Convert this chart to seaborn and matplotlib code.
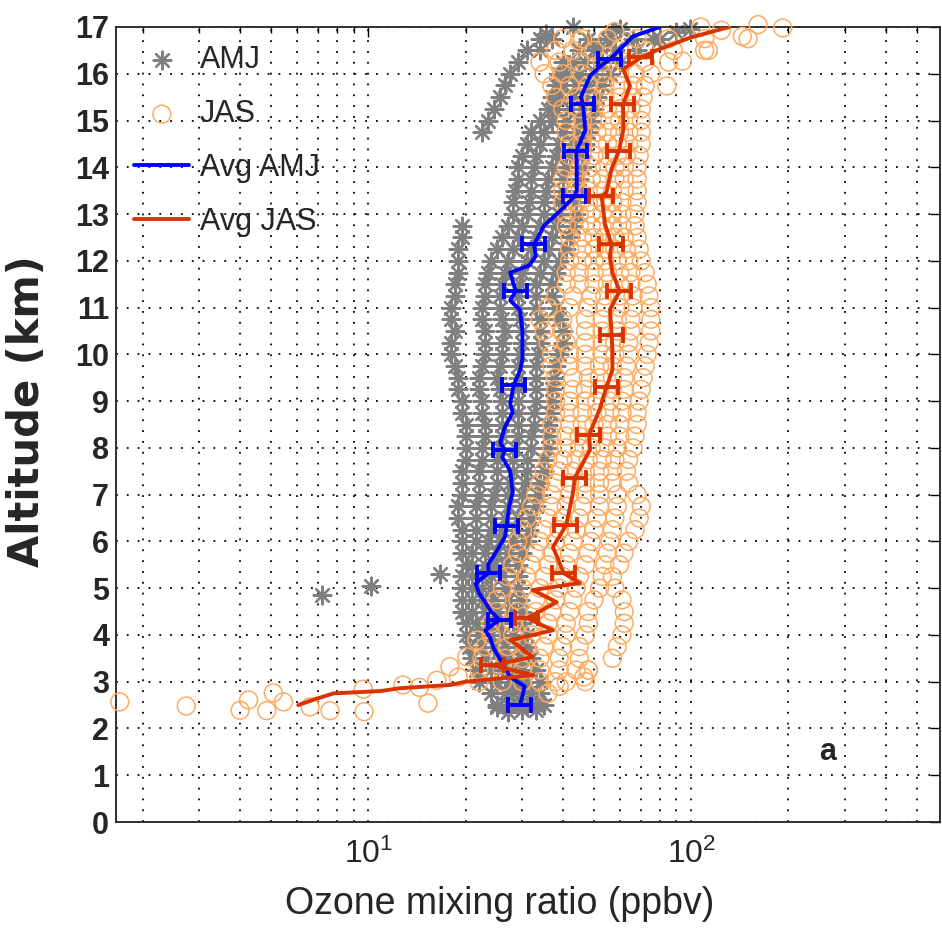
import numpy as np
import pandas as pd
import matplotlib
matplotlib.use("Agg")
import matplotlib.pyplot as plt
import seaborn as sns
from matplotlib.ticker import LogLocator, NullFormatter, FixedLocator

nan = np.nan

# ---------------- data ----------------
levels = [2.5, 2.75, 3.0, 3.25, 3.5, 3.75, 4.0, 4.25, 4.5, 4.75,
          5.0, 5.25, 5.5, 5.75, 6.0, 6.25, 6.5, 6.75, 7.0, 7.25,
          7.5, 7.75, 8.0, 8.25, 8.5, 8.75, 9.0, 9.25, 9.5, 9.75,
          10.0, 10.25, 10.5, 10.75, 11.0, 11.25, 11.5, 11.75, 12.0, 12.25,
          12.5, 12.75, 13.0, 13.25, 13.5, 13.75, 14.0, 14.25, 14.5, 14.75,
          15.0, 15.25, 15.5, 15.75, 16.0, 16.25, 16.5, 16.75]

# AMJ soundings (ppbv at each level)
amj_p1 = [25, 24, 22, 21.5, 21, 20.5, 20, 20, 19.5, 19.5, 19.5, 19.5,
          20, 19.5, 19.5, 19.5, 19, 19, 19.5, 19.5, 19.5, 20, 20, 20,
          20, 19.5, 19.5, 19, 19, 18.5, 18, 18, 18.5, 18, 18, 18.5,
          18.5, 19, 19, 19, 19.5, 19.5, nan, nan, nan, nan, nan, nan,
          nan, 22.5, 23.5, 24.5, 25.5, 26.5, 27.5, 29, 31, 34]
amj_p2 = [27, 26.5, 25, 24, 23, 22.5, 22, 21.5, 21, 21, 21, 21,
          21, 21, 21.5, 21.5, 21.5, 21.5, 22, 22, 22, 22.5, 22.5, 23,
          23, 22.5, 22.5, 22, 22, 22.5, 23, 23, 23, 22.5, 22.5, 23,
          23, 23.5, 24, 25, 26, 27, 28, 28, 28.5, 29, 29, 30,
          31, 32, 34, 36, 37, 38, 39, 40, 34, 37]
amj_p3 = [29, 28, 27.5, 26, 25.5, 24.5, 24, 23.5, 23, 22.5, 22.5, 22.5,
          23, 23, 23.5, 24, 24, 24, 24.5, 25, 25, 25, 25.5, 26,
          26, 26, 26, 25.5, 25, 25.5, 26, 26, 26.5, 26, 25.5, 25.5,
          26, 26.5, 27, 28, 29, 30, 31, 31.5, 32, 32, 32.5, 33,
          34, 35, 37, 38, 39, 40, 41, 43, 45, 48]
amj_p4 = [31, 30, 29, 28, 27, 26.5, 26, 25.5, 25, 24.5, 24, 24,
          24.5, 25, 25.5, 26, 26.5, 27, 27, 27.5, 28, 28, 28.5, 29,
          29, 29, 29, 29, 29, 29, 29.5, 30, 30, 29.5, 29, 29,
          29.5, 30, 31, 32, 33, 34, 35, 35, 35.5, 36, 37, 38,
          39, 40, 41, 42, 43, 44, 45, 47, 50, 55]
amj_p5 = [33, 32, 31, 30, 29.5, 29, 28, 28, 27.5, 27, 26.5, 26,
          26.5, 27, 28, 28.5, 29, 30, 30, 30.5, 31, 31, 32, 32,
          32.5, 32.5, 33, 33, 33, 33, 33.5, 34, 34, 34, 33, 33,
          33, 34, 35, 36, 37, 38, 39, 39, 40, 40, 41, 42,
          43, 44, 45, 46, 47, 48, 50, 53, 58, 66]
amj_p6 = [35, 34, 34, 33, 32, 31, 31, 30, 30, 29.5, 29, 29,
          29, 30, 31, 31.5, 32, 33, 33.5, 34, 35, 35, 36, 36,
          36, 36.5, 37, 37, 37.5, 38, 39, 40, 40, 39, 38, 37,
          37, 38, 39, 41, 42, 43, 44, 44, 45, 45, 46, 46,
          47, 48, 49, 50, 51, 53, 56, 60, 68, 80]
amj_extra_alt = [2.35, 2.4, 2.4, 2.45, 4.85, 5.05, 5.3, 16.6, 16.85, 16.9,
                 16.95, 17.0, 16.75, 16.9, 16.95, 15.6, 16.0]
amj_extra_val = [27, 30, 33, 25, 7.2, 10.2, 16.7, 52, 35.5, 57,
                 60, 43, 76, 90, 99, 39, 45]

# JAS soundings (ppbv at each level)
jas_p1 = [nan, nan, 22, 22, 22.5, 23, 24, 24, 25, 25,
          26, 27, 28, 29, 29, 30, 31, 32, 33, 34,
          35, 36, 37, 37, 37, 38, 38, 38, 38, 37,
          37, 36, 35, 34, 36, 38, 41, 41, 42, 42,
          42, 41, 41, 40, 40, 40, 41, 42, 42, 41,
          41, 40, 38, 37, 35, 34, 38, 40]
jas_p2 = [nan, nan, 26, 26, 26.5, 27, 28, 28, 29, 29,
          30, 31, 32, 33, 34, 35, 36, 37, 37, 38,
          39, 40, 41, 41, 42, 42, 42, 43, 43, 42,
          42, 41, 40, 40, 42, 43, 45, 45, 46, 46,
          46, 45, 45, 44, 44, 44, 45, 46, 46, 46,
          46, 45, 44, 42, 40, 39, 43, 46]
jas_p3 = [nan, nan, 30, 30, 30, 31, 32, 32, 33, 33,
          34, 35, 36, 37, 38, 39, 40, 41, 42, 42,
          43, 44, 45, 45, 46, 46, 47, 47, 48, 47,
          47, 47, 47, 47, 48, 49, 50, 50, 50, 50,
          50, 49, 49, 48, 48, 49, 49, 50, 51, 51,
          51, 50, 49, 48, 46, 45, 50, 55]
jas_p4 = [nan, nan, 34, 34, 34, 35, 36, 36, 37, 38,
          39, 40, 41, 42, 43, 44, 45, 46, 47, 47,
          47, 48, 49, 50, 50, 51, 51, 52, 52, 52,
          53, 53, 53, 53, 54, 54, 55, 55, 54, 54,
          54, 53, 53, 53, 53, 53, 54, 55, 55, 55,
          56, 55, 54, 54, 53, 53, 60, 68]
jas_p5 = [nan, nan, 38, 39, 39, 40, 41, 41, 42, 43,
          44, 45, 47, 48, 49, 50, 51, 52, 52, 52,
          52, 53, 54, 55, 55, 56, 56, 57, 57, 57,
          58, 58, 59, 59, 60, 60, 60, 60, 59, 58,
          58, 57, 57, 57, 57, 58, 58, 59, 59, 60,
          60, 60, 60, 60, 60, 62, 72, 85]
jas_p6 = [nan, nan, 41, 44, 45, 45, 47, 48, 48, 50,
          52, 53, 54, 55, 56, 57, 58, 59, 59, 57,
          57, 58, 59, 60, 60, 61, 61, 62, 62, 63,
          64, 64, 65, 65, 66, 66, 65, 65, 64, 63,
          62, 61, 61, 61, 62, 62, 62, 63, 64, 64,
          64, 65, 65, 66, 67, 72, 88, 110]
jas_p7 = [nan, nan, 47, 48, 57, 59, 61, 62, 62, 61,
          58, 57, 60, 62, 64, 67, 69, 70, 68, 64,
          63, 64, 66, 67, 68, 68, 69, 70, 71, 72,
          73, 74, 75, 75, 75, 74, 73, 72, 70, 69,
          68, 67, 67, 68, 68, 68, 68, 69, 70, 70,
          70, 70, 71, 72, 75, 85, 110, 150]
jas_extra_alt = [2.57, 2.48, 2.39, 2.61, 2.38, 2.76, 2.57, 2.46, 2.38, 2.84,
                 2.36, 2.93, 2.88, 2.54, 3.03, 3.32, 3.10, 3.53, 3.89,
                 2.75, 2.9, 3.1, 3.25,
                 17.0, 16.93, 16.8, 17.05, 16.98, 16.5, 16.27, 15.74, 16.9, 16.7]
jas_extra_val = [1.70, 2.73, 4.01, 4.26, 4.85, 5.08, 5.46, 6.60, 7.61, 9.65,
                 9.70, 12.8, 14.4, 15.3, 16.3, 17.9, 19.0, 20.2, 21.7,
                 36, 39, 46.5, 48,
                 107, 124, 144, 161, 192, 113, 94, 84, 58, 45]

# Averages
avg_amj_alt = [2.5, 2.7, 2.9, 3.1, 3.3, 3.5, 3.7, 3.95, 4.1, 4.32,
               4.5, 4.7, 4.9, 5.1, 5.33, 5.5, 5.7, 5.9, 6.1, 6.32,
               6.75, 7.05, 7.5, 7.8, 7.96, 8.1, 8.45, 8.75, 8.95, 9.35,
               9.65, 9.9, 10.5, 10.95, 11.15, 11.35, 11.75, 11.9, 12.1, 12.35,
               12.75, 13.05, 13.38, 13.5, 14.0, 14.35, 14.8, 15.35, 15.5, 15.95,
               16.15, 16.31, 16.8, 17.0]
avg_amj = [29.5, 30, 30.5, 27.5, 26.5, 25.5, 24.5, 23.8, 23, 25.5,
           24, 23, 22, 21.5, 23.6, 23.5, 24.5, 25.5, 26.5, 26.8,
           27.3, 28, 27.5, 26, 26.5, 25.6, 26.5, 28, 27.5, 28.2,
           29.5, 30, 30, 29.5, 27.5, 28.6, 27.5, 31.5, 33, 32.6,
           35, 39, 43.6, 44.2, 44.2, 44.1, 47, 46.2, 45.5, 48.6,
           52, 56, 66, 80]
avg_jas_alt = [2.5, 2.62, 2.75, 2.8, 2.86, 2.93, 3.0, 3.14, 3.35, 3.53,
               3.89, 4.1, 4.36, 4.7, 4.96, 5.11, 5.32, 5.88, 6.35, 7.03,
               7.36, 7.96, 8.28, 8.82, 9.31, 9.67, 10.1, 10.42, 10.96, 11.35,
               11.75, 12.1, 12.35, 12.8, 13.38, 13.46, 13.96, 14.35, 14.8, 15.35,
               15.74, 16.1, 16.35, 16.5, 16.77, 17.0]
avg_jas = [6.07, 6.8, 7.8, 10.9, 12.5, 17.9, 20, 32.4, 24.3, 32.3,
           27.6, 37.3, 31, 38.3, 32.3, 45.2, 40.3, 37.3, 41, 43,
           43.6, 48.6, 48.3, 52, 54.7, 57, 57, 56.7, 56, 60,
           57, 56, 56.6, 54, 52.8, 54.6, 56.6, 59.7, 61.6, 61.5,
           64.6, 61.5, 70, 78, 99, 131]

amj_bar_alt = [2.5, 4.32, 5.33, 6.32, 7.96, 9.35, 11.35, 12.35, 13.38, 14.35, 15.35, 16.31]
amj_bar_val = [29.5, 25.5, 23.6, 26.8, 26.5, 28.2, 28.6, 32.6, 43.6, 44.1, 46.2, 56]
amj_bar_err = [2.4, 2.1, 1.9, 2.2, 2.2, 2.3, 2.3, 2.7, 3.6, 3.6, 3.8, 4.6]
jas_bar_alt = [3.35, 4.36, 5.32, 6.35, 7.36, 8.28, 9.31, 10.42, 11.35, 12.35, 13.38, 14.35, 15.35, 16.35]
jas_bar_val = [24.3, 31.0, 40.3, 41.0, 43.6, 48.3, 54.7, 56.7, 60.0, 56.6, 52.8, 59.7, 61.5, 70.0]
jas_bar_err = [2.0, 2.6, 3.3, 3.4, 3.6, 4.0, 4.5, 4.7, 5.0, 4.7, 4.4, 4.9, 5.1, 5.8]

y_ticks = list(range(0, 18))
x_limits = [1.655, 589]

# ---------------- build tables ----------------
amj_profiles = [amj_p1, amj_p2, amj_p3, amj_p4, amj_p5, amj_p6]
jas_profiles = [jas_p1, jas_p2, jas_p3, jas_p4, jas_p5, jas_p6, jas_p7]
df_amj = pd.DataFrame({
    "alt": levels * len(amj_profiles) + amj_extra_alt,
    "o3": sum(amj_profiles, []) + amj_extra_val}).dropna()
df_jas = pd.DataFrame({
    "alt": levels * len(jas_profiles) + jas_extra_alt,
    "o3": sum(jas_profiles, []) + jas_extra_val}).dropna()
df_avg_amj = pd.DataFrame({"alt": avg_amj_alt, "o3": avg_amj})
df_avg_jas = pd.DataFrame({"alt": avg_jas_alt, "o3": avg_jas})

# ---------------- style ----------------
sns.set_theme(style="white")
plt.rcParams["font.family"] = ["Liberation Sans", "DejaVu Sans"]
plt.rcParams["mathtext.fontset"] = "custom"
plt.rcParams["mathtext.rm"] = "Liberation Sans"
plt.rcParams["mathtext.it"] = "Liberation Sans:italic"
plt.rcParams["mathtext.bf"] = "Liberation Sans:bold"

GRAY = "#808080"
ORANGE = "#FFAA5E"
BLUE = "#0000FF"
RED = "#D93300"

fig = plt.figure(figsize=(9.42, 9.34), dpi=100)
ax = fig.add_axes([116 / 942, 1 - 822 / 934, (940 - 116) / 942, (822 - 27) / 934])
ax.set_xscale("log")

sns.scatterplot(data=df_amj, x="o3", y="alt", marker=(8, 2, 0), color=GRAY,
                s=160, linewidth=1.7, ax=ax, label="AMJ", clip_on=False, zorder=2)
sns.scatterplot(data=df_jas, x="o3", y="alt", marker="o", facecolor="none",
                edgecolor=ORANGE, s=165, linewidth=1.1, ax=ax, label="JAS",
                clip_on=False, zorder=3)
sns.lineplot(data=df_avg_amj, x="o3", y="alt", orient="y", sort=True, estimator=None,
             color=BLUE, linewidth=2.8, ax=ax, label="Avg AMJ", zorder=4)
sns.lineplot(data=df_avg_jas, x="o3", y="alt", orient="y", sort=True, estimator=None,
             color=RED, linewidth=2.8, ax=ax, label="Avg JAS", zorder=5)
ax.errorbar(amj_bar_val, amj_bar_alt, xerr=amj_bar_err, fmt="none", ecolor=BLUE,
            elinewidth=2.8, capsize=5.5, capthick=2.8, zorder=4)
ax.errorbar(jas_bar_val, jas_bar_alt, xerr=jas_bar_err, fmt="none", ecolor=RED,
            elinewidth=2.8, capsize=5.5, capthick=2.8, zorder=5)

ax.set_xlim(*x_limits)
ax.set_ylim(0, 17)
ax.yaxis.set_major_locator(FixedLocator(y_ticks))
ax.xaxis.set_major_locator(LogLocator(base=10, numticks=10))
ax.xaxis.set_minor_locator(LogLocator(base=10, subs=np.arange(2, 10), numticks=20))
ax.xaxis.set_minor_formatter(NullFormatter())

dots = (0, (1, 5))
ax.grid(True, which="major", axis="both", color="black", linestyle=dots, linewidth=1.3)
ax.grid(True, which="minor", axis="x", color="black", linestyle=dots, linewidth=1.3)
ax.set_axisbelow(True)

ax.tick_params(which="both", direction="in", top=True, right=True, color="black")
ax.tick_params(which="major", length=7, width=1.0)
ax.tick_params(which="minor", length=4, width=1.0)
ax.tick_params(axis="y", labelsize=22, pad=5)
ax.tick_params(axis="x", labelsize=23, pad=12)
for lab in ax.get_yticklabels():
    lab.set_fontweight("bold")
for s in ax.spines.values():
    s.set_color("#222222")
    s.set_linewidth(1.3)

ax.set_xlabel("Ozone mixing ratio (ppbv)", fontsize=27)
ax.set_ylabel("Altitude (km)", fontsize=30, fontweight="bold",
              family=["DejaVu Sans"])
ax.xaxis.set_label_coords((500 - 116) / 824, -0.081)
ax.yaxis.set_label_coords(-0.082, 0.517)

ax.text(0.864, 0.088, "a", transform=ax.transAxes, fontsize=22, fontweight="bold",
        ha="center", va="center")

ax.legend(loc="upper left", frameon=False, fontsize=22, handlelength=1.8,
          handletextpad=0.35, labelspacing=0.78, borderaxespad=0.25, borderpad=0.35)

fig.savefig("out.png", dpi=100)
